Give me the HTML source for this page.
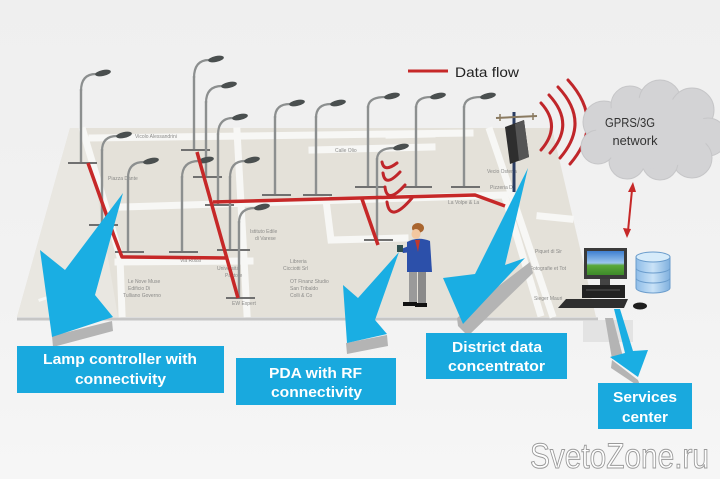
<!DOCTYPE html>
<html><head><meta charset="utf-8"><style>
html,body{margin:0;padding:0;background:#f1f1f1;}
svg{display:block;}
.p{stroke:#8c8f8f;stroke-width:2.4;fill:none;}
.a{stroke:#8c8f8f;stroke-width:2.2;fill:none;}
.bb{stroke:#707070;stroke-width:2;}
.h{fill:#4a4f4f;}
.st{stroke:#f7f7f5;stroke-width:7;fill:none;stroke-linecap:square;}
.r{stroke:#c62828;stroke-width:3.5;fill:none;stroke-linejoin:round;}
.ra{stroke:#c0262a;stroke-width:3;fill:none;stroke-linecap:round;}
.lb{font-family:"Liberation Sans",sans-serif;font-size:5px;fill:#8a8a88;}
.bx{fill:#19a9de;}
.bt{font-family:"Liberation Sans",sans-serif;font-weight:bold;font-size:15px;fill:#fff;}
.ar{fill:#1aaee3;}
.sh{fill:#b4b4b4;}
</style></head><body>
<svg width="720" height="479" viewBox="0 0 720 479" xmlns="http://www.w3.org/2000/svg">
<defs>
<linearGradient id="bg" x1="0" y1="0" x2="0" y2="1">
<stop offset="0" stop-color="#efefef"/><stop offset="0.6" stop-color="#f2f2f2"/><stop offset="1" stop-color="#f6f6f6"/>
</linearGradient>
<linearGradient id="scr" x1="0" y1="0" x2="0" y2="1">
<stop offset="0" stop-color="#3f7fd0"/><stop offset="0.5" stop-color="#9cc6ee"/><stop offset="0.6" stop-color="#5aa83a"/><stop offset="1" stop-color="#3d8a2a"/>
</linearGradient>
<linearGradient id="db" x1="0" y1="0" x2="1" y2="0">
<stop offset="0" stop-color="#8fbde8"/><stop offset="0.5" stop-color="#c9e2f7"/><stop offset="1" stop-color="#7fb0de"/>
</linearGradient>
</defs>
<rect width="720" height="479" fill="url(#bg)"/>

<!-- map -->
<polygon points="70,128 552,128 596,317 17,317" fill="#e4e1d9"/>
<polygon points="70,128 86,128 118,317 17,317" fill="#e9e7e1"/>
<line x1="17" y1="319" x2="598" y2="319" stroke="#c6c6c6" stroke-width="3"/>

<!-- streets -->
<path class="st" d="M83,131 L112,228 L120,257 L122,314"/>
<path class="st" d="M92,138 L470,133"/>
<path class="st" d="M237,131 L247,314"/>
<path class="st" d="M122,207 L505,195"/>
<path class="st" d="M118,262 L250,261"/>
<path class="st" d="M326,200 L331,240 L405,238"/>
<path class="st" d="M312,150 L432,147"/>
<path class="st" d="M389,135 L432,134"/>
<path class="st" d="M490,131 L552,314"/>
<path class="st" d="M540,216 L570,219"/>
<path class="st" d="M505,197 L540,313"/>
<path class="st" d="M40,300 L70,290" style="stroke-width:3"/>

<!-- map labels -->
<text class="lb" x="108" y="180">Piazza Dante</text>
<text class="lb" x="135" y="138">Vicolo Alessandrini</text>
<text class="lb" x="128" y="283">Le Nove Muse</text>
<text class="lb" x="128" y="290">Edificio Di</text>
<text class="lb" x="123" y="297">Tulliano Governo</text>
<text class="lb" x="250" y="233">Istituto Edile</text>
<text class="lb" x="255" y="240">di Varese</text>
<text class="lb" x="290" y="263">Libreria</text>
<text class="lb" x="283" y="270">Cicciotti Srl</text>
<text class="lb" x="290" y="283">OT Finanz Studio</text>
<text class="lb" x="290" y="290">San Tribaldo</text>
<text class="lb" x="290" y="297">Colli &amp; Co</text>
<text class="lb" x="217" y="270">Universitá</text>
<text class="lb" x="225" y="277">Pastore</text>
<text class="lb" x="232" y="305">EW Expert</text>
<text class="lb" x="335" y="152">Calle Olio</text>
<text class="lb" x="487" y="173">Vecio Osteria</text>
<text class="lb" x="490" y="189">Pizzeria Da</text>
<text class="lb" x="448" y="204">La Volpe &amp; La</text>
<text class="lb" x="535" y="253">Piquet di Sir</text>
<text class="lb" x="530" y="270">Fotografie et Tot</text>
<text class="lb" x="534" y="300">Sieger Mauri</text>
<text class="lb" x="180" y="262">Via Rossi</text>

<!-- lamp posts -->
<g>
<line class="p" x1="81" y1="89" x2="81" y2="163"/><path class="a" d="M81,91 Q81,74 96,74"/><ellipse class="h" cx="103" cy="73" rx="8" ry="3" transform="rotate(-12 103 73)"/><line class="bb" x1="68" y1="163" x2="97" y2="163"/>
<line class="p" x1="102" y1="149" x2="102" y2="225"/><path class="a" d="M102,151 Q102,136 117,136"/><ellipse class="h" cx="124" cy="135" rx="8" ry="3" transform="rotate(-12 124 135)"/><line class="bb" x1="89" y1="225" x2="118" y2="225"/>
<line class="p" x1="128" y1="176" x2="128" y2="252"/><path class="a" d="M128,178 Q128,162 144,162"/><ellipse class="h" cx="151" cy="161" rx="8" ry="3" transform="rotate(-12 151 161)"/><line class="bb" x1="115" y1="252" x2="144" y2="252"/>
<line class="p" x1="194" y1="76" x2="194" y2="150"/><path class="a" d="M194,78 Q194,60 209,60"/><ellipse class="h" cx="216" cy="59" rx="8" ry="3" transform="rotate(-12 216 59)"/><line class="bb" x1="181" y1="150" x2="210" y2="150"/>
<line class="p" x1="206" y1="101" x2="206" y2="177"/><path class="a" d="M206,103 Q206,86 222,86"/><ellipse class="h" cx="229" cy="85" rx="8" ry="3" transform="rotate(-12 229 85)"/><line class="bb" x1="193" y1="177" x2="222" y2="177"/>
<line class="p" x1="218" y1="133" x2="218" y2="205"/><path class="a" d="M218,135 Q218,118 233,118"/><ellipse class="h" cx="240" cy="117" rx="8" ry="3" transform="rotate(-12 240 117)"/><line class="bb" x1="205" y1="205" x2="234" y2="205"/>
<line class="p" x1="182" y1="176" x2="182" y2="252"/><path class="a" d="M182,178 Q182,161 199,161"/><ellipse class="h" cx="206" cy="160" rx="8" ry="3" transform="rotate(-12 206 160)"/><line class="bb" x1="169" y1="252" x2="198" y2="252"/>
<line class="p" x1="230" y1="176" x2="230" y2="250"/><path class="a" d="M230,178 Q230,161 245,161"/><ellipse class="h" cx="252" cy="160" rx="8" ry="3" transform="rotate(-12 252 160)"/><line class="bb" x1="217" y1="250" x2="250" y2="250"/>
<line class="p" x1="239" y1="221" x2="239" y2="298"/><path class="a" d="M239,223 Q239,208 255,208"/><ellipse class="h" cx="262" cy="207" rx="8" ry="3" transform="rotate(-12 262 207)"/><line class="bb" x1="226" y1="298" x2="255" y2="298"/>
<line class="p" x1="275" y1="116" x2="275" y2="195"/><path class="a" d="M275,118 Q275,104 290,104"/><ellipse class="h" cx="297" cy="103" rx="8" ry="3" transform="rotate(-12 297 103)"/><line class="bb" x1="262" y1="195" x2="291" y2="195"/>
<line class="p" x1="316" y1="116" x2="316" y2="195"/><path class="a" d="M316,118 Q316,104 331,104"/><ellipse class="h" cx="338" cy="103" rx="8" ry="3" transform="rotate(-12 338 103)"/><line class="bb" x1="303" y1="195" x2="332" y2="195"/>
<line class="p" x1="368" y1="106" x2="368" y2="187"/><path class="a" d="M368,108 Q368,97 385,97"/><ellipse class="h" cx="392" cy="96" rx="8" ry="3" transform="rotate(-12 392 96)"/><line class="bb" x1="355" y1="187" x2="384" y2="187"/>
<line class="p" x1="416" y1="106" x2="416" y2="187"/><path class="a" d="M416,108 Q416,97 431,97"/><ellipse class="h" cx="438" cy="96" rx="8" ry="3" transform="rotate(-12 438 96)"/><line class="bb" x1="403" y1="187" x2="432" y2="187"/>
<line class="p" x1="464" y1="106" x2="464" y2="187"/><path class="a" d="M464,108 Q464,97 481,97"/><ellipse class="h" cx="488" cy="96" rx="8" ry="3" transform="rotate(-12 488 96)"/><line class="bb" x1="451" y1="187" x2="480" y2="187"/>
<line class="p" x1="377" y1="158" x2="377" y2="240"/><path class="a" d="M377,160 Q377,148 394,148"/><ellipse class="h" cx="401" cy="147" rx="8" ry="3" transform="rotate(-12 401 147)"/><line class="bb" x1="364" y1="240" x2="393" y2="240"/>
</g>

<!-- data flow red lines -->
<path class="r" d="M88,163 L114,236 L122,257 L228,258"/>
<path class="r" d="M197,152 L238,298"/>
<path class="r" d="M213,202 L360,198 L475,195 L505,206"/>
<path class="r" d="M362,199 L378,245"/>

<!-- RF small arcs -->
<path class="ra" d="M382,162 Q384,173 397,163"/>
<path class="ra" d="M383,173 Q385,188 400,172"/>
<path class="ra" d="M385,187 Q387,205 405,185"/>
<path class="ra" d="M387,202 Q390,224 412,198"/>

<!-- concentrator -->
<line x1="514" y1="112" x2="514" y2="192" stroke="#2b3d62" stroke-width="3"/>
<line x1="496" y1="118" x2="537" y2="116" stroke="#8a7a60" stroke-width="2"/>
<line x1="500" y1="114" x2="500" y2="121" stroke="#8a7a60" stroke-width="1.5"/>
<line x1="533" y1="113" x2="533" y2="120" stroke="#8a7a60" stroke-width="1.5"/>
<polygon points="505,127 524,120 529,157 510,164" fill="#2e2e2e"/>
<polygon points="515,124 524,120 529,157 519,161" fill="#555"/>

<!-- big arcs -->
<path class="ra" d="M541,103 Q562,126 541,150"/>
<path class="ra" d="M549,95 Q576,124 550,153"/>
<path class="ra" d="M558,87 Q591,122 560,158"/>
<path class="ra" d="M568,80 Q606,122 570,164"/>

<!-- person -->
<g>
<ellipse cx="418" cy="228" rx="6" ry="5" fill="#a9652f"/>
<ellipse cx="416" cy="234" rx="4.5" ry="5" fill="#f2c7a0"/>
<path d="M407,242 Q418,236 430,241 L432,272 L407,272 Z" fill="#2c50aa"/>
<path d="M415,240 L418,252 L420,240 Z" fill="#c0392b"/>
<path d="M409,246 L401,249 L403,253 L412,252 Z" fill="#2c50aa"/>
<rect x="397" y="245" width="6" height="7" fill="#2f4f4f"/>
<rect x="409" y="272" width="8" height="30" fill="#9a9a9a"/>
<rect x="418" y="272" width="8" height="31" fill="#8a8a8a"/>
<path d="M403,302 L417,302 L417,306 L403,306 Z" fill="#111"/>
<path d="M415,303 L427,303 L427,307 L415,307 Z" fill="#111"/>
</g>

<!-- computer reflection -->
<rect x="583" y="320" width="50" height="22" fill="#d8d8d8" opacity="0.6"/>

<!-- computer -->
<rect x="584" y="248" width="43" height="31" fill="#3a3a3a"/>
<rect x="587" y="251" width="37" height="24" fill="url(#scr)"/>
<rect x="600" y="279" width="10" height="6" fill="#444"/>
<rect x="582" y="285" width="43" height="13" fill="#222"/>
<line x1="586" y1="290" x2="620" y2="290" stroke="#555" stroke-width="1"/>
<polygon points="566,299 628,299 624,308 558,308" fill="#2f2f2f"/>
<ellipse cx="640" cy="306" rx="7" ry="3.5" fill="#1e1e1e"/>
<!-- database -->
<path d="M636,257 L636,288 A17,5 0 0 0 670,288 L670,257 Z" fill="url(#db)" stroke="#6a9ccc" stroke-width="1"/>
<ellipse cx="653" cy="257" rx="17" ry="5" fill="#d6ebfa" stroke="#6a9ccc" stroke-width="1"/>
<path d="M636,268 A17,5 0 0 0 670,268" fill="none" stroke="#6a9ccc" stroke-width="1"/>
<path d="M636,278 A17,5 0 0 0 670,278" fill="none" stroke="#6a9ccc" stroke-width="1"/>

<!-- double arrow -->
<line x1="632" y1="190" x2="628" y2="231" stroke="#c62828" stroke-width="2"/>
<polygon points="633,182 628,192 636,192" fill="#c62828"/>
<polygon points="627,238 623,228 631,229" fill="#c62828"/>

<!-- cloud -->
<g fill="#d3d3d5" stroke="#c6c6c8" stroke-width="1">
<circle cx="604" cy="122" r="21"/>
<circle cx="630" cy="105" r="19"/>
<circle cx="660" cy="101" r="21"/>
<circle cx="692" cy="110" r="22"/>
<circle cx="708" cy="137" r="19"/>
<circle cx="692" cy="158" r="20"/>
<circle cx="660" cy="162" r="18"/>
<circle cx="627" cy="161" r="18"/>
<circle cx="598" cy="147" r="17"/>
</g>
<ellipse cx="652" cy="133" rx="56" ry="36" fill="#d3d3d5"/>
<text x="630" y="127" text-anchor="middle" font-family="Liberation Sans,sans-serif" font-size="13" fill="#333" textLength="50" lengthAdjust="spacingAndGlyphs">GPRS/3G</text>
<text x="635" y="145" text-anchor="middle" font-family="Liberation Sans,sans-serif" font-size="13" fill="#333" textLength="45" lengthAdjust="spacingAndGlyphs">network</text>

<!-- legend -->
<line x1="408" y1="71" x2="448" y2="71" stroke="#c62828" stroke-width="3"/>
<text x="455" y="77" font-family="Liberation Sans,sans-serif" font-size="14" fill="#222" textLength="64" lengthAdjust="spacingAndGlyphs">Data flow</text>

<!-- blue arrows with shadows -->
<polygon class="sh" points="52,336 112,321 113,331 53,347"/>
<polygon class="ar" points="123,193 95,295 113,317 52,337 40,250 65,270"/>

<polygon class="sh" points="346,343 387,335 388,346 347,354"/>
<polygon class="ar" points="399,252 375,320 387,334 347,343 343,285 358,298"/>

<polygon class="sh" points="457,318 530,262 533,273 468,336 458,326"/>
<polygon class="ar" points="528,168 505,265 525,258 463,324 443,278 475,274"/>

<polygon class="sh" points="605,318 613,318 623,357 612,359"/>
<polygon class="sh" points="612,360 638,380 641,388 611,368"/>
<polygon class="ar" points="614,309 620,309 633,351 648,350 638,377 610,357 625,353"/>

<!-- boxes -->
<rect class="bx" x="17" y="346" width="207" height="47"/>
<text class="bt" x="120" y="364" text-anchor="middle" textLength="154" lengthAdjust="spacingAndGlyphs">Lamp controller with</text>
<text class="bt" x="120.5" y="384" text-anchor="middle" textLength="91" lengthAdjust="spacingAndGlyphs">connectivity</text>

<rect class="bx" x="236" y="358" width="160" height="47"/>
<text class="bt" x="315.5" y="378" text-anchor="middle" textLength="93" lengthAdjust="spacingAndGlyphs">PDA with RF</text>
<text class="bt" x="316.5" y="397" text-anchor="middle" textLength="91" lengthAdjust="spacingAndGlyphs">connectivity</text>

<rect class="bx" x="426" y="333" width="141" height="46"/>
<text class="bt" x="497" y="352" text-anchor="middle" textLength="90" lengthAdjust="spacingAndGlyphs">District data</text>
<text class="bt" x="496.5" y="371" text-anchor="middle" textLength="97" lengthAdjust="spacingAndGlyphs">concentrator</text>

<rect class="bx" x="598" y="383" width="94" height="46"/>
<text class="bt" x="645" y="402" text-anchor="middle" textLength="64" lengthAdjust="spacingAndGlyphs">Services</text>
<text class="bt" x="645" y="422" text-anchor="middle" textLength="46" lengthAdjust="spacingAndGlyphs">center</text>

<!-- watermark -->
<text x="530" y="468" font-family="Liberation Sans,sans-serif" font-size="35" fill="#ffffff" stroke="#9a9a9a" stroke-width="1" textLength="179" lengthAdjust="spacingAndGlyphs">SvetoZone.ru</text>
</svg>
</body></html>
